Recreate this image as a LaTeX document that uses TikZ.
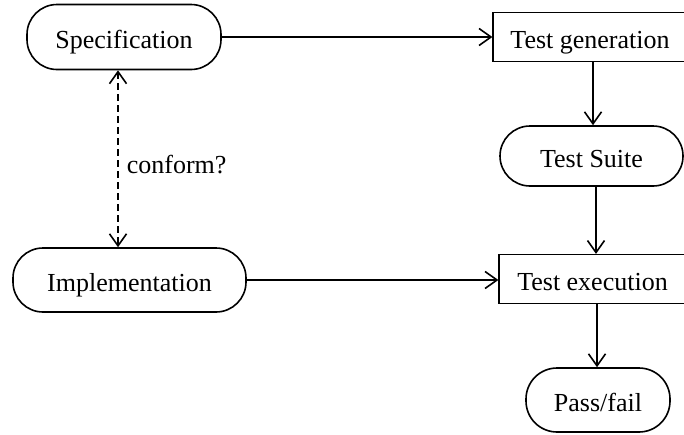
\documentclass[tikz,border=0pt]{standalone}
\usepackage{fontspec}
\setmainfont{Liberation Serif}
\usetikzlibrary{arrows.meta}
\begin{document}
\begin{tikzpicture}[x=1pt,y=-1pt,
  every node/.style={font=\fontsize{26}{30}\selectfont, line width=1.6pt, inner sep=0pt,
    text height=28pt, text depth=6pt},
  terminal/.style={draw, rounded corners=30pt},
  stage/.style={draw, line width=1.2pt},
  flow/.style={line width=1.6pt, -{Straight Barb[length=12pt,width=17pt,line width=1.6pt]}},
  link/.style={line width=1.6pt, dash pattern=on 7pt off 4pt,
    {Straight Barb[length=12pt,width=17pt,line width=1.6pt]}-{Straight Barb[length=12pt,width=17pt,line width=1.6pt]}}]
  \useasboundingbox (0,0) rectangle (684,434);
  \clip (0,0) rectangle (684,434);

  % left column
  \node[terminal, minimum width=194pt, minimum height=65pt] (spec) at (124,37) {Specification};
  \node[terminal, minimum width=233pt, minimum height=64pt] (impl) at (129.5,280) {Implementation};

  % right column
  \node[stage, minimum width=194pt, minimum height=49pt] (gen) at (590,37) {Test generation};
  \node[terminal, minimum width=183pt, minimum height=60pt] (suite) at (591.5,156) {Test Suite};
  \node[stage, minimum width=187pt, minimum height=49pt] (exec) at (592.5,279) {Test execution};
  \node[terminal, minimum width=144pt, minimum height=64pt, rounded corners=31pt] (pass) at (598,400) {Pass/fail};

  % connectors
  \draw[flow] (spec.east) -- (gen.west);
  \draw[flow] (impl.east) -- (impl.east -| exec.west);
  \draw[flow] (gen.south -| 593,0) -- (suite.north -| 593,0);
  \draw[flow] (suite.south -| 596,0) -- (exec.north -| 596,0);
  \draw[flow] (exec.south -| 597,0) -- (pass.north -| 597,0);
  \draw[link] (spec.south -| 118,0) -- node[right=8pt, text height=35pt, text depth=6pt] (conf) {conform?} (impl.north -| 118,0);
\end{tikzpicture}
\end{document}
